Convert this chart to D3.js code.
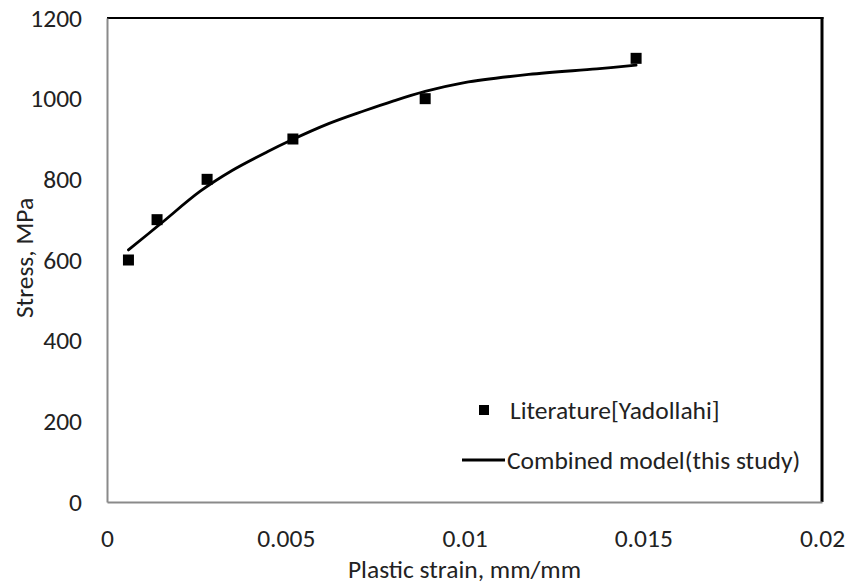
<!DOCTYPE html>
<html>
<head>
<meta charset="utf-8">
<script src="https://cdn.jsdelivr.net/npm/d3@7"></script>
<style>
  html, body { margin: 0; padding: 0; background: #fff; }
  svg { display: block; }
  text { font-family: Carlito, Calibri, Lato, "Open Sans", sans-serif; fill: #222; }
</style>
</head>
<body>
<svg id="chart" width="848" height="585"></svg>
<script>
// Experimental points (literature)
const expStrain = [0.0006, 0.0014, 0.0028, 0.0052, 0.0089, 0.0148];
const expStress = [600, 700, 800, 900, 1000, 1100];

// Combined model curve
const modelStrain = [0.0006, 0.0015, 0.0026, 0.0035, 0.0045, 0.0051, 0.0062, 0.0072, 0.0080, 0.0089, 0.0100, 0.0118, 0.0137, 0.0148];
const modelStress = [625, 690, 770, 822, 869, 895, 938, 970, 994, 1018, 1040, 1060, 1074, 1083];

// Axis ticks
const xTicks = [0, 0.005, 0.01, 0.015, 0.02];
const xTickLabels = ["0", "0.005", "0.01", "0.015", "0.02"];
const yTicks = [0, 200, 400, 600, 800, 1000, 1200];

const legendLabels = ["Literature[Yadollahi]", "Combined model(this study)"];

const svg = d3.select("#chart");
const plot = { left: 107, right: 822, top: 18, bottom: 502 };
const fs = "25.5px";

const x = d3.scaleLinear().domain([0, 0.02]).range([plot.left, plot.right]);
const y = d3.scaleLinear().domain([0, 1200]).range([plot.bottom, plot.top]);

// Plot frame: dark on top/right
svg.append("line").attr("x1", plot.left).attr("x2", plot.right + 1.5)
  .attr("y1", plot.top).attr("y2", plot.top)
  .attr("stroke", "#000").attr("stroke-width", 2);
svg.append("line").attr("x1", plot.right).attr("x2", plot.right)
  .attr("y1", plot.top - 1).attr("y2", plot.bottom)
  .attr("stroke", "#000").attr("stroke-width", 3);

// Axes (no tick marks, gray domain lines)
const xAxis = d3.axisBottom(x).tickValues(xTicks)
  .tickFormat((d, i) => xTickLabels[i]).tickSize(0).tickPadding(27);
const yAxis = d3.axisLeft(y).tickValues(yTicks)
  .tickFormat(d3.format("d")).tickSize(0).tickPadding(25);

const gx = svg.append("g").attr("transform", `translate(0,${plot.bottom})`).call(xAxis);
const gy = svg.append("g").attr("transform", `translate(${plot.left},0)`).call(yAxis);
[gx, gy].forEach(g => {
  g.select(".domain").attr("stroke", "#8a8a8a").attr("stroke-width", 2);
  g.selectAll("text").style("font-size", fs).attr("fill", "#222");
});

// Axis titles
svg.append("text")
  .attr("x", (plot.left + plot.right) / 2).attr("y", 578)
  .attr("text-anchor", "middle").style("font-size", fs)
  .text("Plastic strain, mm/mm");
svg.append("text")
  .attr("transform", `translate(33,258) rotate(-90)`)
  .attr("text-anchor", "middle").style("font-size", fs)
  .text("Stress, MPa");

// Model line
const modelData = modelStrain.map((s, i) => ({ s, v: modelStress[i] }));
const line = d3.line().x(d => x(d.s)).y(d => y(d.v)).curve(d3.curveCatmullRom.alpha(0.5));
svg.append("path").datum(modelData)
  .attr("d", line).attr("fill", "none")
  .attr("stroke", "#000").attr("stroke-width", 2.8).attr("stroke-linecap", "round");

// Experimental markers
const ms = 11;
svg.append("g").selectAll("rect")
  .data(expStrain.map((s, i) => ({ s, v: expStress[i] })))
  .join("rect")
  .attr("x", d => x(d.s) - ms / 2).attr("y", d => y(d.v) - ms / 2)
  .attr("width", ms).attr("height", ms).attr("fill", "#000");

// Legend
const lg = svg.append("g");
lg.append("rect").attr("x", 484 - 5).attr("y", 410 - 5).attr("width", 10).attr("height", 10).attr("fill", "#000");
lg.append("text").attr("x", 510).attr("y", 410).attr("dy", "0.35em")
  .style("font-size", fs).text(legendLabels[0]);
lg.append("line").attr("x1", 462).attr("x2", 505).attr("y1", 460).attr("y2", 460)
  .attr("stroke", "#000").attr("stroke-width", 2.8);
lg.append("text").attr("x", 507).attr("y", 460).attr("dy", "0.35em")
  .style("font-size", fs).text(legendLabels[1]);
</script>
</body>
</html>
